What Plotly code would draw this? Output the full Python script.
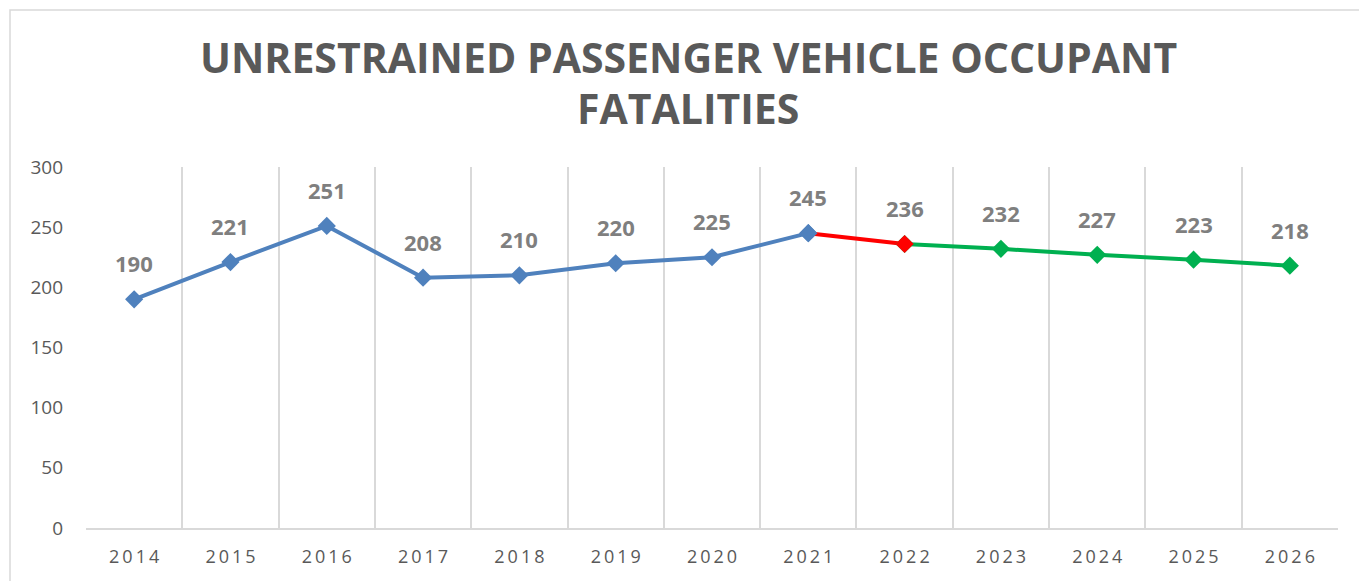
import plotly.graph_objects as go

years = ["2014", "2015", "2016", "2017", "2018", "2019", "2020", "2021", "2022", "2023", "2024", "2025", "2026"]
values = [190, 221, 251, 208, 210, 220, 225, 245, 236, 232, 227, 223, 218]
title_lines = ["UNRESTRAINED PASSENGER VEHICLE OCCUPANT", "FATALITIES"]
y_ticks = [0, 50, 100, 150, 200, 250, 300]

BLUE = "#4F81BD"
RED = "#FF0000"
GREEN = "#00B050"
GRID = "#D9D9D9"
TXT = "#595959"
LBL = "#7F7F7F"

# page has an 8px body margin; figure coordinates = page coordinates - 8
OFF = 8
W, H = 1367 - OFF, 581 - OFF
ML = 86 - OFF
MT = 167 - OFF
MR = W - (1338 - OFF)
MB = H - (528 - OFF)
pw = W - ML - MR
ph = H - MT - MB

def px_x(page_x):
    return (page_x - OFF - ML) / pw

def px_y(page_y):
    return 1 - (page_y - OFF - MT) / ph

xs = list(range(len(years)))
i_red = years.index("2022")
i_blue_end = years.index("2021")

fig = go.Figure()
fig.add_trace(go.Scatter(x=xs[:i_blue_end + 1], y=values[:i_blue_end + 1], mode="lines+markers",
                         line=dict(color=BLUE, width=4),
                         marker=dict(symbol="diamond", size=14, color=BLUE), hoverinfo="skip"))
fig.add_trace(go.Scatter(x=xs[i_blue_end:i_red + 1], y=values[i_blue_end:i_red + 1], mode="lines",
                         line=dict(color=RED, width=4), hoverinfo="skip"))
fig.add_trace(go.Scatter(x=xs[i_red:], y=values[i_red:], mode="lines+markers",
                         line=dict(color=GREEN, width=4),
                         marker=dict(symbol="diamond", size=14, color=GREEN), hoverinfo="skip"))
fig.add_trace(go.Scatter(x=[xs[i_red]], y=[values[i_red]], mode="markers",
                         marker=dict(symbol="diamond", size=14, color=RED), hoverinfo="skip"))
fig.add_trace(go.Scatter(x=[xs[i_blue_end]], y=[values[i_blue_end]], mode="markers",
                         marker=dict(symbol="diamond", size=14, color=BLUE), hoverinfo="skip"))

annotations = []
for x, v in zip(xs, values):
    annotations.append(dict(x=x, y=v, xref="x", yref="y", text=f"<b>{v}</b>", showarrow=False,
                            yshift=36, font=dict(family="Open Sans", size=22, color=LBL)))

for line, yc in zip(title_lines, [57, 108]):
    annotations.append(dict(x=px_x(688), y=px_y(yc), xref="paper", yref="paper",
                            xanchor="center", yanchor="middle",
                            text="<b>" + line + "</b>", showarrow=False,
                            font=dict(family="Open Sans", size=41, color=TXT)))

spaced = ["\u2009".join(list(y)) for y in years]

fig.update_layout(
    width=W, height=H,
    margin=dict(l=ML, r=MR, t=MT, b=MB, autoexpand=False),
    paper_bgcolor="white", plot_bgcolor="white",
    showlegend=False,
    annotations=annotations,
    shapes=[dict(type="rect", xref="paper", yref="paper",
                 x0=px_x(10), x1=px_x(1366), y0=px_y(600), y1=px_y(10),
                 line=dict(color=GRID, width=1.5), layer="below")],
    xaxis=dict(range=[-0.5, len(years) - 0.5], tickvals=xs, ticktext=spaced,
               showgrid=False, zeroline=False, ticks="",
               showline=True, linecolor=GRID, linewidth=1.5, ticklabelstandoff=12,
               tickfont=dict(family="Open Sans", size=18, color=TXT),
               minor=dict(tickvals=[i - 0.5 for i in range(len(years) + 1)], showgrid=True,
                          gridcolor=GRID, gridwidth=1.5, ticks="")),
    yaxis=dict(range=[0, 300], tickvals=y_ticks, showgrid=False, zeroline=False,
               showline=False, ticks="", ticklabelstandoff=22,
               tickfont=dict(family="Open Sans", size=19, color=TXT)),
)

fig.write_html("out.html")
